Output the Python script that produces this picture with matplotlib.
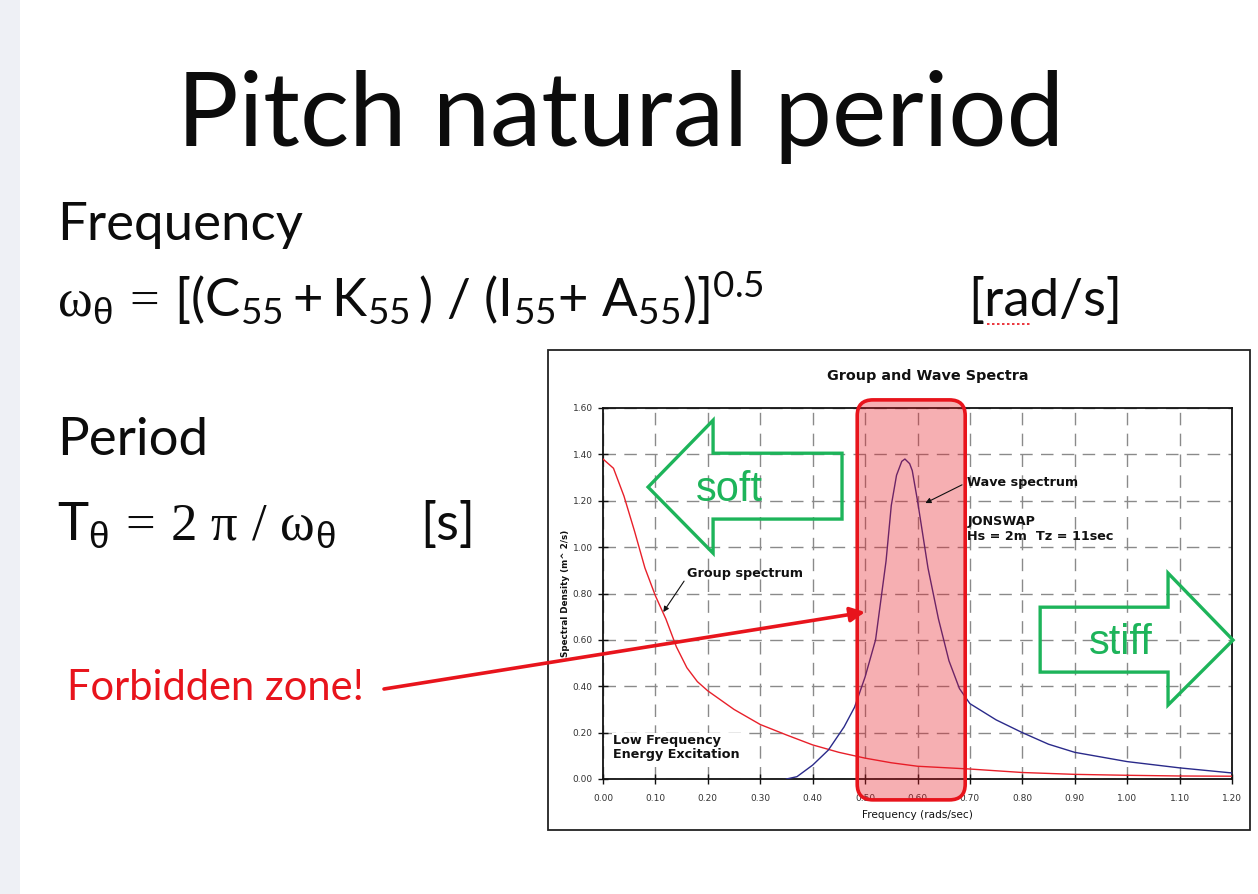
import matplotlib
matplotlib.use("Agg")
import matplotlib.pyplot as plt
from matplotlib.patches import FancyBboxPatch, Polygon, Rectangle
from matplotlib.lines import Line2D
from matplotlib.ticker import FormatStrFormatter

# ---------------- data ----------------
freq_group = [0.00, 0.02, 0.04, 0.06, 0.08, 0.10, 0.12, 0.14, 0.16, 0.18, 0.20,
              0.25, 0.30, 0.35, 0.40, 0.45, 0.50, 0.55, 0.60, 0.70, 0.80, 0.90,
              1.00, 1.10, 1.20]
group_density = [1.38, 1.34, 1.22, 1.07, 0.91, 0.79, 0.69, 0.57, 0.48, 0.42, 0.38,
                 0.30, 0.235, 0.19, 0.147, 0.115, 0.09, 0.07, 0.055, 0.043, 0.028,
                 0.020, 0.016, 0.013, 0.012]

freq_wave = [0.35, 0.37, 0.40, 0.43, 0.46, 0.48, 0.50, 0.52, 0.54, 0.55, 0.56,
             0.57, 0.576, 0.585, 0.59, 0.60, 0.62, 0.64, 0.66, 0.68, 0.70, 0.75,
             0.80, 0.85, 0.90, 1.00, 1.10, 1.20]
wave_density = [0.00, 0.01, 0.06, 0.125, 0.225, 0.31, 0.44, 0.60, 0.94, 1.18, 1.31,
                1.37, 1.38, 1.36, 1.33, 1.20, 0.91, 0.69, 0.51, 0.39, 0.325, 0.255,
                0.20, 0.15, 0.115, 0.075, 0.048, 0.026]

x_ticks = [0.0, 0.1, 0.2, 0.3, 0.4, 0.5, 0.6, 0.7, 0.8, 0.9, 1.0, 1.1, 1.2]
y_ticks = [0.0, 0.2, 0.4, 0.6, 0.8, 1.0, 1.2, 1.4, 1.6]

zone_lo, zone_hi = 0.485, 0.691          # forbidden zone (rad/s)
zone_bottom, zone_top = -0.09, 1.635

soft_arrow = [(0.086, 1.259), (0.21, 1.547), (0.21, 1.405), (0.456, 1.405),
              (0.456, 1.121), (0.21, 1.121), (0.21, 0.974)]
stiff_arrow = [(0.834, 0.741), (1.078, 0.741), (1.078, 0.888), (1.202, 0.599),
               (1.078, 0.319), (1.078, 0.461), (0.834, 0.461)]

# ---------------- figure ----------------
W, H = 1258, 894
fig = plt.figure(figsize=(W / 100, H / 100), dpi=100)
fig.patch.set_facecolor("white")

plt.rcParams["mathtext.fontset"] = "custom"
plt.rcParams["mathtext.rm"] = "Lato"
plt.rcParams["mathtext.it"] = "Lato:italic"
plt.rcParams["mathtext.bf"] = "Lato:bold"
plt.rcParams["mathtext.sf"] = "Liberation Sans"
plt.rcParams["mathtext.tt"] = "Liberation Serif"


def fx(px):
    return px / W


def fy(py):
    return 1 - py / H


TXT = "#0c0c0c"
RED = "#E8141C"
GREEN = "#1DB45A"

# left strip of the slide
fig.add_artist(Rectangle((0, 0), fx(20), 1, transform=fig.transFigure,
                         facecolor="#EEF0F5", edgecolor="none", zorder=0))

# slide texts
fig.text(fx(621), fy(146), "Pitch natural period", family="Lato", fontsize=74,
         ha="center", va="baseline", color=TXT)
fig.text(fx(57), fy(240), "Frequency", family="Lato", fontsize=38,
         ha="left", va="baseline", color=TXT)
fig.text(fx(57), fy(316),
         r"$\mathtt{ω}_{\mathsf{θ}}\,\mathtt{=}\,[(\mathrm{C}_{55} + \mathrm{K}_{55}\,)\ /\ "
         r"(\mathrm{I}_{55}{+}\ \mathrm{A}_{55})]^{0.5}$",
         fontsize=38, ha="left", va="baseline", color=TXT)
fig.text(fx(968), fy(316), "[rad/s]", family="Lato", fontsize=38,
         ha="left", va="baseline", color=TXT)
fig.add_artist(Line2D([fx(987), fx(1031)], [fy(324), fy(324)],
                      transform=fig.transFigure, color=RED, lw=1.2,
                      ls=(0, (1.5, 1.5))))
fig.text(fx(57), fy(455), "Period", family="Lato", fontsize=38,
         ha="left", va="baseline", color=TXT)
fig.text(fx(57), fy(540),
         r"$\mathrm{T}_{\mathsf{θ}}\,\mathtt{=}\,\mathtt{2\ π\ /\ ω}_{\mathsf{θ}}$",
         fontsize=38, ha="left", va="baseline", color=TXT)
fig.text(fx(420), fy(540), "[s]", family="Lato", fontsize=38,
         ha="left", va="baseline", color=TXT)
fig.text(fx(67), fy(700), "Forbidden zone!", family="Lato", fontsize=30,
         ha="left", va="baseline", color=RED)

# chart frame
fig.add_artist(Rectangle((fx(548), fy(830)), fx(1250) - fx(548), fy(350) - fy(830),
                         transform=fig.transFigure, facecolor="white",
                         edgecolor="#222222", lw=1.3, zorder=1))
fig.text(fx(928), fy(376), "Group and Wave Spectra", family="DejaVu Sans",
         fontweight="bold", fontsize=10.4, ha="center", va="center", color="#111")

ax = fig.add_axes([fx(603), fy(779), fx(1232) - fx(603), fy(408) - fy(779)])
ax.set_zorder(2)
ax.set_facecolor("white")
ax.set_xlim(0, 1.2)
ax.set_ylim(0, 1.6)
ax.set_xticks(x_ticks)
ax.set_yticks(y_ticks)
ax.xaxis.set_major_formatter(FormatStrFormatter("%.2f"))
ax.yaxis.set_major_formatter(FormatStrFormatter("%.2f"))
ax.tick_params(direction="inout", length=7, width=1, colors="#111",
               labelsize=6.5, labelcolor="#333", pad=4)
ax.tick_params(axis="x", pad=7)
ax.grid(True, color="#8a8a8a", lw=1.0, ls=(0, (9, 6)))
ax.set_axisbelow(True)
for s in ax.spines.values():
    s.set_color("#111")
    s.set_linewidth(1.3)

ax.plot(freq_group, group_density, color="#E8202A", lw=1.0, zorder=3)
ax.plot(freq_wave, wave_density, color="#2A2A8A", lw=1.0, zorder=3)

ax.set_xlabel("Frequency (rads/sec)", family="DejaVu Sans", fontsize=7.6,
              labelpad=5, color="#111")
ax.set_ylabel("Spectral Density (m^ 2/s)", family="DejaVu Sans", fontsize=6.3,
              fontweight="bold", labelpad=2, color="#111")

# forbidden zone box with rounded corners
fig.canvas.draw()
bb = ax.get_window_extent()
aspect = (1.6 / bb.height) / (1.2 / bb.width)
zone = FancyBboxPatch((zone_lo, zone_bottom), zone_hi - zone_lo, zone_top - zone_bottom,
                      boxstyle="round,pad=0,rounding_size=0.03",
                      mutation_aspect=aspect, transform=ax.transData,
                      facecolor=(0.91, 0.1, 0.14, 0.35), edgecolor=RED, lw=2.6,
                      clip_on=False, zorder=5)
ax.add_patch(zone)

# soft / stiff arrows
for verts in (soft_arrow, stiff_arrow):
    ax.add_patch(Polygon(verts, closed=True, fill=False, edgecolor=GREEN, lw=2.4,
                         joinstyle="miter", clip_on=False, zorder=6))
ax.text(0.242, 1.246, "soft", family="Liberation Sans", fontsize=30, color=GREEN,
        ha="center", va="center", zorder=7)
ax.text(0.987, 0.586, "stiff", family="Liberation Sans", fontsize=30, color=GREEN,
        ha="center", va="center", zorder=7)

# chart annotations
ANN = 9.2
ax.annotate("Group spectrum", xy=(0.115, 0.72), xytext=(0.16, 0.888),
            family="DejaVu Sans", fontweight="bold", fontsize=ANN, va="center",
            color="#111", zorder=8,
            arrowprops=dict(arrowstyle="-|>", color="#111", lw=0.8, shrinkA=0,
                            shrinkB=0, mutation_scale=8, relpos=(0, 0.2)))
ax.annotate("Wave spectrum", xy=(0.615, 1.19), xytext=(0.695, 1.28),
            family="DejaVu Sans", fontweight="bold", fontsize=ANN, va="center",
            color="#111", zorder=8,
            arrowprops=dict(arrowstyle="-|>", color="#111", lw=0.8, shrinkA=2,
                            shrinkB=0, mutation_scale=8, relpos=(0, 0.5)))
ax.text(0.695, 1.078, "JONSWAP\nHs = 2m  Tz = 11sec", family="DejaVu Sans",
        fontweight="bold", fontsize=ANN, va="center", ha="left", color="#111",
        linespacing=1.15, zorder=8)
ax.text(0.02, 0.136, "Low Frequency\nEnergy Excitation", family="DejaVu Sans",
        fontweight="bold", fontsize=ANN, va="center", ha="left", color="#111",
        linespacing=1.1, zorder=8,
        bbox=dict(facecolor="white", edgecolor="none", pad=1))

# forbidden zone arrow
ax.annotate("", xy=(0.50, 0.72), xycoords="data",
            xytext=(384, H - 689), textcoords="figure pixels",
            annotation_clip=False, zorder=10,
            arrowprops=dict(arrowstyle="-|>", color=RED, lw=2.6, shrinkA=0,
                            shrinkB=0, mutation_scale=22))

fig.savefig("out.png", dpi=100, facecolor="white")
